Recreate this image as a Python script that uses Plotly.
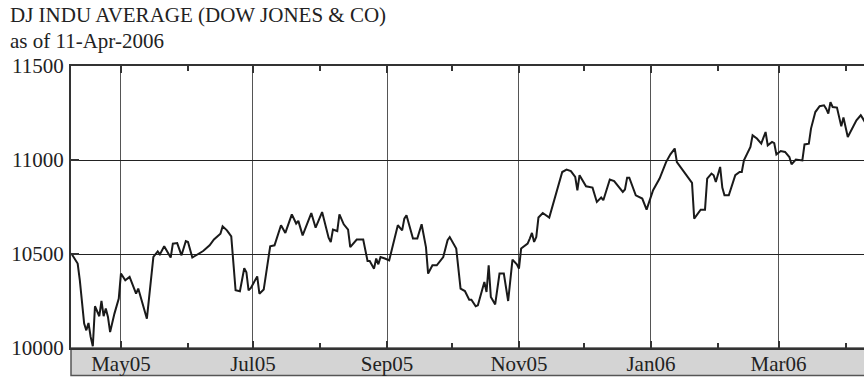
import plotly.graph_objects as go

title_line1 = "DJ INDU AVERAGE (DOW JONES & CO)"
title_line2 = "as of 11-Apr-2006"

dates = [
    "2005-04-08", "2005-04-11", "2005-04-12", "2005-04-14", "2005-04-15", "2005-04-16",
    "2005-04-17", "2005-04-18", "2005-04-19", "2005-04-21", "2005-04-22", "2005-04-23",
    "2005-04-24", "2005-04-25", "2005-04-26", "2005-04-28", "2005-04-30",
    "2005-05-01", "2005-05-03", "2005-05-05", "2005-05-08", "2005-05-09", "2005-05-13",
    "2005-05-16", "2005-05-18", "2005-05-19", "2005-05-21", "2005-05-24", "2005-05-25",
    "2005-05-27", "2005-05-29", "2005-05-31",
    "2005-06-01", "2005-06-03", "2005-06-04", "2005-06-08", "2005-06-11", "2005-06-13",
    "2005-06-16", "2005-06-17", "2005-06-19", "2005-06-21", "2005-06-23", "2005-06-25",
    "2005-06-27", "2005-06-28", "2005-06-29", "2005-06-30",
    "2005-07-03", "2005-07-04", "2005-07-06", "2005-07-08", "2005-07-09", "2005-07-11",
    "2005-07-14", "2005-07-16", "2005-07-19", "2005-07-21", "2005-07-22", "2005-07-24",
    "2005-07-28", "2005-07-30",
    "2005-08-02", "2005-08-05", "2005-08-06", "2005-08-07", "2005-08-09", "2005-08-10",
    "2005-08-12", "2005-08-14", "2005-08-15", "2005-08-18", "2005-08-21", "2005-08-23",
    "2005-08-24", "2005-08-26", "2005-08-27", "2005-08-28", "2005-08-29", "2005-08-31",
    "2005-09-02", "2005-09-06", "2005-09-08", "2005-09-09", "2005-09-10", "2005-09-13",
    "2005-09-15", "2005-09-17", "2005-09-19", "2005-09-20", "2005-09-22", "2005-09-24",
    "2005-09-27", "2005-09-29", "2005-09-30",
    "2005-10-03", "2005-10-05", "2005-10-07", "2005-10-09", "2005-10-10", "2005-10-12",
    "2005-10-13", "2005-10-16", "2005-10-17", "2005-10-18", "2005-10-19", "2005-10-21",
    "2005-10-23", "2005-10-25", "2005-10-27", "2005-10-29", "2005-10-31",
    "2005-11-01", "2005-11-02", "2005-11-05", "2005-11-06", "2005-11-07", "2005-11-08",
    "2005-11-09", "2005-11-10", "2005-11-12", "2005-11-15", "2005-11-21", "2005-11-23",
    "2005-11-25", "2005-11-27", "2005-11-28", "2005-11-29",
    "2005-12-02", "2005-12-05", "2005-12-07", "2005-12-09", "2005-12-10", "2005-12-13",
    "2005-12-15", "2005-12-19", "2005-12-20", "2005-12-21", "2005-12-22", "2005-12-25",
    "2005-12-28", "2005-12-30",
    "2006-01-02", "2006-01-05", "2006-01-08", "2006-01-10", "2006-01-11", "2006-01-12",
    "2006-01-13", "2006-01-19", "2006-01-20", "2006-01-21", "2006-01-24", "2006-01-26",
    "2006-01-27", "2006-01-29", "2006-01-30", "2006-01-31",
    "2006-02-02", "2006-02-03", "2006-02-04", "2006-02-06", "2006-02-08", "2006-02-09",
    "2006-02-11", "2006-02-12", "2006-02-13", "2006-02-16", "2006-02-17", "2006-02-19",
    "2006-02-21", "2006-02-23", "2006-02-24", "2006-02-26", "2006-02-27", "2006-02-28",
    "2006-03-02", "2006-03-04", "2006-03-06", "2006-03-07", "2006-03-09", "2006-03-12",
    "2006-03-13", "2006-03-15", "2006-03-16", "2006-03-18", "2006-03-20", "2006-03-22",
    "2006-03-23", "2006-03-24", "2006-03-25", "2006-03-26", "2006-03-28", "2006-03-29",
    "2006-03-30", "2006-03-31",
    "2006-04-02", "2006-04-06", "2006-04-08", "2006-04-09", "2006-04-11",
]

closes = [
    10504, 10449, 10360, 10130, 10094, 10133, 10059, 10009, 10222, 10169, 10250, 10169,
    10210, 10165, 10085, 10183, 10263,
    10396, 10360, 10378, 10289, 10316, 10156, 10484, 10514, 10498, 10541, 10481, 10555,
    10558, 10493, 10569,
    10564, 10481, 10488, 10516, 10546, 10577, 10608, 10647, 10626, 10594, 10307, 10302,
    10424, 10403, 10307, 10318,
    10381, 10289, 10311, 10476, 10541, 10546, 10653, 10612, 10711, 10662, 10676, 10599,
    10718, 10640,
    10723, 10587, 10564, 10630, 10622, 10711, 10658, 10630, 10537, 10577, 10577, 10463,
    10463, 10422, 10476, 10445, 10484, 10476,
    10466, 10653, 10626, 10688, 10706, 10582, 10582, 10658, 10537, 10396, 10440, 10440,
    10484, 10573, 10590,
    10529, 10316, 10303, 10257, 10257, 10222, 10227, 10351, 10298, 10440, 10271, 10232,
    10396, 10396, 10250, 10470, 10445,
    10422, 10529, 10555, 10582, 10612, 10564, 10590, 10694, 10718, 10694, 10936, 10949,
    10941, 10910, 10839, 10919,
    10860, 10853, 10777, 10800, 10786, 10896, 10888, 10830, 10843, 10906, 10906, 10812,
    10795, 10736,
    10839, 10901, 10989, 11030, 11043, 11061, 10989, 10892, 10878, 10688, 10736, 10736,
    10901, 10928, 10919, 10883,
    10963, 10853, 10812, 10812, 10892, 10919, 10936, 10936, 10998, 11069, 11131, 11114,
    11087, 11149, 11078, 11096, 11090, 11030,
    11048, 11043, 11016, 10977, 11002, 10998, 11083, 11087, 11167, 11255, 11286, 11291,
    11273, 11247, 11308, 11282, 11279, 11220, 11179, 11226,
    11122, 11211, 11238, 11220, 11180,
]

y_ticks = [10000, 10500, 11000, 11500]
x_range = ["2005-04-07 22:00", "2006-04-09 12:00"]

FONT = "Liberation Serif, Times New Roman, serif"
TXT = "#222222"
FS = 21
W, H = 864, 377
L, R, T, B = 71, 0, 66, 29
plot_h = H - T - B
strip_px = 27.5

fig = go.Figure(
    go.Scatter(
        x=dates, y=closes, mode="lines",
        line=dict(color="#1a1a1a", width=2),
        hoverinfo="skip",
    )
)

fig.add_shape(
    type="rect", xref="paper", yref="paper",
    x0=0, x1=1.02, y0=-strip_px / plot_h, y1=0,
    fillcolor="#d4d4d4", line=dict(color="#555555", width=1.5),
    layer="below",
)

fig.add_annotation(
    text=title_line1, xref="paper", yref="paper", x=0, y=1,
    xanchor="left", yanchor="middle", xshift=-63, yshift=T - 15,
    showarrow=False, font=dict(family=FONT, size=FS, color=TXT),
)
fig.add_annotation(
    text=title_line2, xref="paper", yref="paper", x=0, y=1,
    xanchor="left", yanchor="middle", xshift=-63, yshift=T - 41,
    showarrow=False, font=dict(family=FONT, size=FS, color=TXT),
)

fig.update_xaxes(
    type="date", range=x_range,
    tick0="2005-05-01", dtick="M2", tickformat="%b%y",
    ticks="inside", ticklen=7, tickwidth=2, tickcolor="#333333",
    showgrid=True, gridcolor="#555555", gridwidth=1,
    showline=True, linecolor="#333333", linewidth=2, mirror="ticks",
    minor=dict(tick0="2005-05-01", dtick="M1", ticks="inside", ticklen=5,
               tickwidth=2, tickcolor="#333333", showgrid=False),
    tickfont=dict(family=FONT, size=FS, color=TXT),
    ticklabelstandoff=-4,
    zeroline=False, fixedrange=True,
)
fig.update_yaxes(
    range=[10000, 11500], tickvals=y_ticks, tickformat="d",
    ticks="inside", ticklen=8, tickwidth=1.5, tickcolor="#333333",
    showgrid=True, gridcolor="#222222", gridwidth=1,
    showline=True, linecolor="#333333", linewidth=2, mirror=False,
    tickfont=dict(family=FONT, size=FS, color=TXT),
    ticklabelstandoff=1,
    zeroline=False, fixedrange=True,
)

fig.update_layout(
    width=W, height=H,
    margin=dict(l=L, r=R, t=T, b=B, pad=0),
    plot_bgcolor="white", paper_bgcolor="white",
    showlegend=False,
)

fig.write_html(
    "out.html",
    config={"displayModeBar": False, "staticPlot": True},
    post_script="document.body.style.margin='0';document.body.style.overflow='hidden';",
)
